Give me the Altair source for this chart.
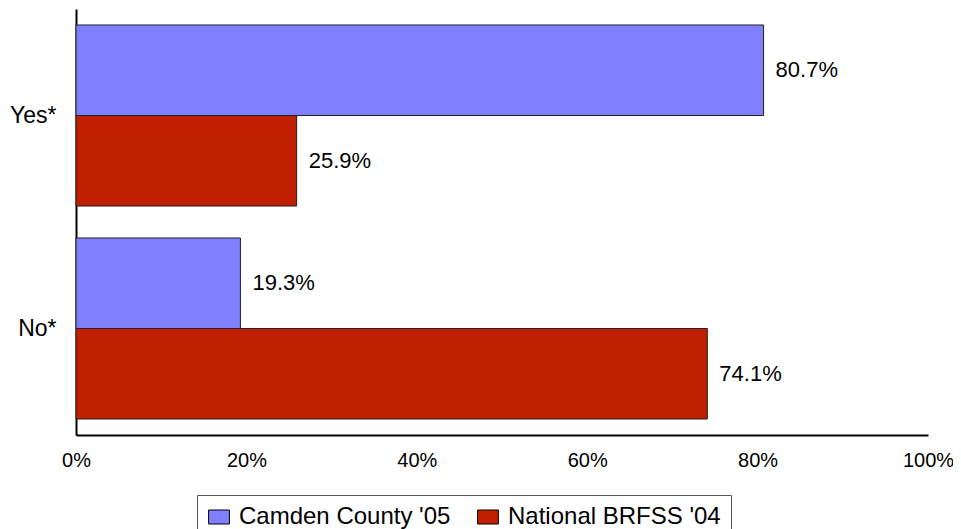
import altair as alt
import pandas as pd

categories = ["Yes*", "No*"]
series = ["Camden County '05", "National BRFSS '04"]
camden = [0.807, 0.193]
national = [0.259, 0.741]
colors = ["#8080FF", "#C02000"]

rows = []
for i, c in enumerate(categories):
    rows.append({"cat": c, "series": series[0], "value": camden[i]})
    rows.append({"cat": c, "series": series[1], "value": national[i]})
df = pd.DataFrame(rows)
df["label"] = df["value"].map(lambda v: f"{v*100:.1f}%")

FONT = "Liberation Sans"

y_enc = alt.Y("cat:N", sort=categories, title=None,
              scale=alt.Scale(paddingInner=0.15, paddingOuter=0.075),
              axis=alt.Axis(domainColor="black", domainWidth=2, ticks=False,
                            labelFontSize=23, labelFont=FONT, labelColor="black",
                            labelPadding=20, grid=False))
yoff = alt.YOffset("series:N", sort=series, scale=alt.Scale(paddingInner=0, paddingOuter=0))
x_enc = alt.X("value:Q", title=None,
              scale=alt.Scale(domain=[0, 1], nice=False),
              axis=alt.Axis(values=[0, 0.2, 0.4, 0.6, 0.8, 1.0], format=".0%",
                            domainColor="black", domainWidth=2, ticks=False,
                            grid=False, labelFontSize=20, labelFont=FONT,
                            labelColor="black", labelPadding=15, labelFlush=False))

bars = alt.Chart(df).mark_bar(stroke="#222222", strokeWidth=1).encode(
    x=x_enc,
    y=y_enc,
    yOffset=yoff,
    color=alt.Color("series:N", sort=series,
                    scale=alt.Scale(domain=series, range=colors),
                    legend=alt.Legend(title=None, orient="none", legendX=121, legendY=486,
                                      direction="horizontal", columns=2,
                                      symbolType="M-1.3,-0.875H1.3V0.875H-1.3Z",
                                      symbolSize=256,
                                      symbolStrokeColor="black", symbolStrokeWidth=1,
                                      symbolOpacity=1,
                                      labelFontSize=24, labelFont=FONT, labelColor="black",
                                      labelOffset=8, columnPadding=24,
                                      strokeColor="#555555", padding=10,
                                      labelLimit=400)),
)

labels = alt.Chart(df).mark_text(align="left", baseline="middle", dx=12,
                                 fontSize=22, font=FONT, color="black").encode(
    x=alt.X("value:Q"),
    y=alt.Y("cat:N", sort=categories),
    yOffset=alt.YOffset("series:N", sort=series),
    text="label:N",
)

chart = alt.layer(bars, labels).properties(
    width=852, height=426,
    autosize=alt.AutoSizeParams(type="none"),
    padding={"left": 68, "top": 1, "right": 25, "bottom": 94},
).configure_view(stroke=None)

chart.save("out.html", embed_options={"renderer": "svg", "actions": False})
